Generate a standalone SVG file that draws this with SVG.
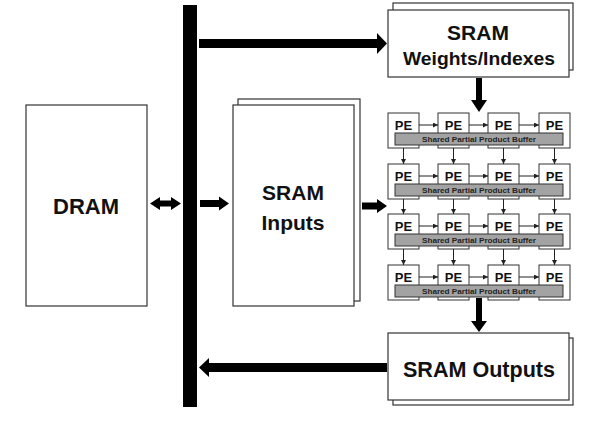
<svg xmlns="http://www.w3.org/2000/svg" width="591" height="422" viewBox="0 0 591 422">
<style>
.box{fill:#fff;stroke:#333;stroke-width:1.2}
.pe{fill:#fff;stroke:#333;stroke-width:1}
.buf{fill:#a3a3a3;stroke:#333;stroke-width:1}
.t{font-family:"Liberation Sans",Arial,sans-serif;font-weight:bold;fill:#111;text-anchor:middle}
.pt{font-family:"Liberation Sans",Arial,sans-serif;font-weight:bold;fill:#111;font-size:13px;text-anchor:middle}
.bt{font-family:"Liberation Sans",Arial,sans-serif;font-weight:bold;fill:#222;font-size:7.6px;text-anchor:middle}
.thin{stroke:#222;stroke-width:1;fill:none;marker-end:url(#ah)}
.big{fill:#000}
</style>
<defs>
<marker id="ah" viewBox="0 0 6 6" refX="6" refY="3" markerWidth="5" markerHeight="5" markerUnits="userSpaceOnUse" orient="auto">
<path d="M0,0 L6,3 L0,6 z" fill="#222"/>
</marker>
</defs>

<g id="dram">
<rect class="box" x="26" y="105" width="121" height="201"/>
<text class="t" x="86" y="214" font-size="22">DRAM</text>
</g>

<g id="bus">
<rect x="183" y="5" width="14" height="402" fill="#000"/>
</g>

<g id="sram-inputs">
<rect class="box" x="238" y="99" width="122" height="202"/>
<rect class="box" x="233" y="105" width="121" height="201"/>
<text class="t" x="293" y="200" font-size="21">SRAM</text>
<text class="t" x="293" y="230" font-size="21">Inputs</text>
</g>

<g id="sram-weights">
<rect class="box" x="393" y="3" width="180" height="67"/>
<rect class="box" x="388" y="10" width="181" height="67"/>
<text class="t" x="478" y="40" font-size="21">SRAM</text>
<text class="t" x="479" y="65" font-size="18" textLength="152" lengthAdjust="spacingAndGlyphs">Weights/Indexes</text>
</g>

<g id="sram-outputs">
<rect class="box" x="393" y="338" width="180" height="67"/>
<rect class="box" x="388" y="333" width="181" height="67"/>
<text class="t" x="479" y="377" font-size="22" textLength="152" lengthAdjust="spacingAndGlyphs">SRAM Outputs</text>
</g>

<g id="pe-array">
<g id="pe-row1">
<rect class="pe" x="388" y="113" width="31" height="35"/>
<rect class="pe" x="438" y="113" width="31" height="35"/>
<rect class="pe" x="488" y="113" width="31" height="35"/>
<rect class="pe" x="539" y="113" width="31" height="35"/>
<text class="pt" x="403.5" y="130">PE</text>
<text class="pt" x="453.5" y="130">PE</text>
<text class="pt" x="503.5" y="130">PE</text>
<text class="pt" x="554.5" y="130">PE</text>
<rect class="buf" x="395" y="133" width="168" height="12"/>
<text class="bt" x="479" y="142" textLength="114" lengthAdjust="spacingAndGlyphs">Shared Partial Product Buffer</text>
</g>
<g id="pe-row2">
<rect class="pe" x="388" y="164" width="31" height="35"/>
<rect class="pe" x="438" y="164" width="31" height="35"/>
<rect class="pe" x="488" y="164" width="31" height="35"/>
<rect class="pe" x="539" y="164" width="31" height="35"/>
<text class="pt" x="403.5" y="181">PE</text>
<text class="pt" x="453.5" y="181">PE</text>
<text class="pt" x="503.5" y="181">PE</text>
<text class="pt" x="554.5" y="181">PE</text>
<rect class="buf" x="395" y="184" width="168" height="12"/>
<text class="bt" x="479" y="193" textLength="114" lengthAdjust="spacingAndGlyphs">Shared Partial Product Buffer</text>
</g>
<g id="pe-row3">
<rect class="pe" x="388" y="214" width="31" height="35"/>
<rect class="pe" x="438" y="214" width="31" height="35"/>
<rect class="pe" x="488" y="214" width="31" height="35"/>
<rect class="pe" x="539" y="214" width="31" height="35"/>
<text class="pt" x="403.5" y="231">PE</text>
<text class="pt" x="453.5" y="231">PE</text>
<text class="pt" x="503.5" y="231">PE</text>
<text class="pt" x="554.5" y="231">PE</text>
<rect class="buf" x="395" y="234" width="168" height="12"/>
<text class="bt" x="479" y="243" textLength="114" lengthAdjust="spacingAndGlyphs">Shared Partial Product Buffer</text>
</g>
<g id="pe-row4">
<rect class="pe" x="388" y="265" width="31" height="35"/>
<rect class="pe" x="438" y="265" width="31" height="35"/>
<rect class="pe" x="488" y="265" width="31" height="35"/>
<rect class="pe" x="539" y="265" width="31" height="35"/>
<text class="pt" x="403.5" y="282">PE</text>
<text class="pt" x="453.5" y="282">PE</text>
<text class="pt" x="503.5" y="282">PE</text>
<text class="pt" x="554.5" y="282">PE</text>
<rect class="buf" x="395" y="285" width="168" height="12"/>
<text class="bt" x="479" y="294" textLength="114" lengthAdjust="spacingAndGlyphs">Shared Partial Product Buffer</text>
</g>
</g>

<g id="connectors">
<polygon class="big" points="199,39 377,39 377,33 387,43.5 377,54 377,48 199,48"/>
<polygon class="big" points="387,363 209,363 209,358 199,367.5 209,377 209,372 387,372"/>
<polygon class="big" points="150,203.5 160,197 160,200.5 171,200.5 171,197 181,203.5 171,210 171,206.5 160,206.5 160,210"/>
<polygon class="big" points="200,200 219,200 219,196.5 229,203.5 219,210.5 219,207 200,207"/>
<polygon class="big" points="362,202.5 377,202.5 377,199 387,206 377,213 377,209.5 362,209.5"/>
<polygon class="big" points="476,78 482,78 482,100 487,100 479,112 471,100 476,100"/>
<polygon class="big" points="476,298 482,298 482,321 487,321 479,332 471,321 476,321"/>
<!-- horizontal PE arrows -->
<path class="thin" d="M419,125 H438"/><path class="thin" d="M469,125 H488"/><path class="thin" d="M519,125 H539"/>
<path class="thin" d="M419,176 H438"/><path class="thin" d="M469,176 H488"/><path class="thin" d="M519,176 H539"/>
<path class="thin" d="M419,226 H438"/><path class="thin" d="M469,226 H488"/><path class="thin" d="M519,226 H539"/>
<path class="thin" d="M419,277 H438"/><path class="thin" d="M469,277 H488"/><path class="thin" d="M519,277 H539"/>
<!-- vertical PE arrows -->
<path class="thin" d="M403.5,148 V164"/><path class="thin" d="M453.5,148 V164"/><path class="thin" d="M503.5,148 V164"/><path class="thin" d="M554.5,148 V164"/>
<path class="thin" d="M403.5,199 V214"/><path class="thin" d="M453.5,199 V214"/><path class="thin" d="M503.5,199 V214"/><path class="thin" d="M554.5,199 V214"/>
<path class="thin" d="M403.5,249 V265"/><path class="thin" d="M453.5,249 V265"/><path class="thin" d="M503.5,249 V265"/><path class="thin" d="M554.5,249 V265"/>
</g>
</svg>
